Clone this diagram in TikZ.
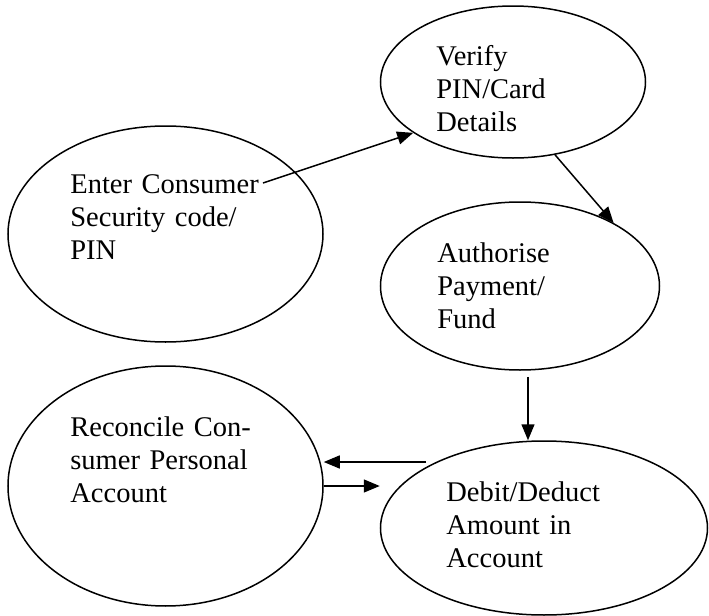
\documentclass[tikz,border=0pt]{standalone}
\usepackage{fontspec}
\setmainfont{Liberation Serif}
\usetikzlibrary{arrows.meta,shapes.geometric}
\begin{document}
\begin{tikzpicture}[x=0.5pt,y=-0.5pt,
    stage/.style={draw,ellipse,line width=0.75pt,inner sep=0pt},
    stagetext/.style={anchor=base west,inner sep=0pt,text width=120pt,align=left,
        font=\fontsize{14.25}{16.7}\selectfont},
    flow/.style={line width=0.75pt,-{Triangle[length=8pt,width=6.5pt]}}]
    \useasboundingbox (0,0) rectangle (709,616);
    %% ovals
    \node[stage,minimum width=157.5pt,minimum height=108pt] (enter) at (165.5,234) {};
    \node[stage,minimum width=132.5pt,minimum height=76pt] (verify) at (513,82) {};
    \node[stage,minimum width=139.5pt,minimum height=84pt] (authorise) at (520,286) {};
    \node[stage,minimum width=157.5pt,minimum height=120pt] (reconcile) at (165.5,486) {};
    \node[stage,minimum width=163.5pt,minimum height=87pt] (debit) at (544,528) {};
    %% texts are left aligned, top of the oval
    \node[stagetext] (entertext) at (70,193) {Enter Consumer\\Security code/\\PIN};
    \node[stagetext] (verifytext) at (436,65) {Verify\\PIN/Card\\Details};
    \node[stagetext] (authorisetext) at (437,262) {Authorise\\Payment/\\Fund};
    \node[stagetext] (reconciletext) at (70,436) {Reconcile Con-\\sumer Personal\\Account};
    \node[stagetext] (debittext) at (446,501) {Debit/Deduct\\Amount in\\Account};
    %% arrows
    \coordinate (pinend) at (263,183);
    \draw[flow] (pinend) -- (verify.207);
    \draw[flow] (verify.300) -- (authorise.34);
    \draw[flow] ([xshift=4pt,yshift=-3pt]authorise.south) -- ([xshift=4pt]authorise.south |- debit.north);
    \coordinate (debitleft) at (426,462);
    \draw[flow] (debitleft) -- (debitleft -| reconcile.east);
    \draw[flow] (reconcile.east) -- (reconcile.east -| debit.west);
\end{tikzpicture}
\end{document}
